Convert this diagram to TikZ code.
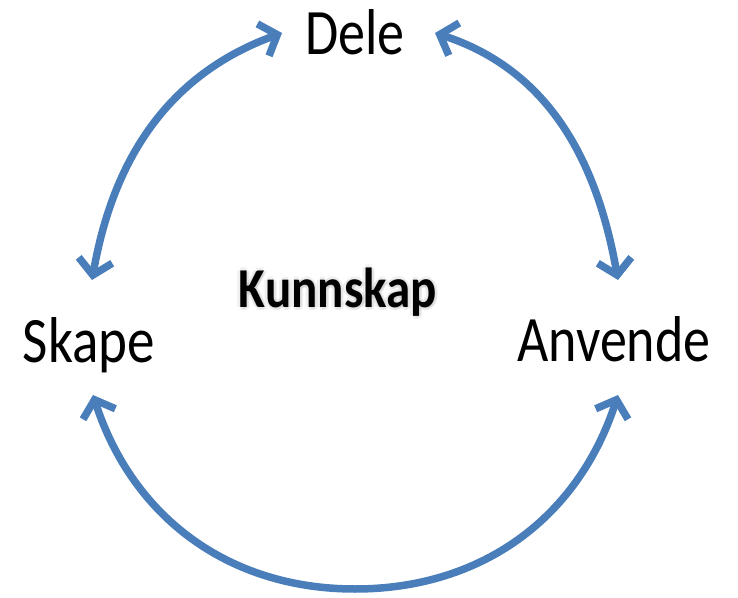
\documentclass[tikz,border=0pt]{standalone}
\usepackage{fontspec}
\setmainfont{Carlito}
\usepackage{tikz}
\usetikzlibrary{arrows.meta}
\definecolor{arrowblue}{RGB}{74,126,187}

\begin{document}
\begin{tikzpicture}[x=1pt,y=1pt,
  cyc/.style={arrowblue, line width=7.5pt,
    {Straight Barb[length=15pt,width=34pt]}-{Straight Barb[length=15pt,width=34pt]}},
  word/.style={anchor=base, inner sep=0pt, font=\fontsize{54}{60}\selectfont},
  bigword/.style={anchor=base, inner sep=0pt, font=\fontsize{49}{54}\selectfont\bfseries}]
\useasboundingbox (0,0) rectangle (738,597);
\node[word] (dele) at (355,542) {\scalebox{1}[1.2]{Dele}};
\node[word] (skape) at (89,234) {\scalebox{1.02}[1.2]{Skape}};
\node[word] (anvende) at (614,235) {\scalebox{1}[1.2]{Anvende}};
% soft shadow round the middle word
{ \foreach \dx/\dy in {-3/0,3/0,0/-3,0/3,2/-2}{\node[bigword, text=gray, opacity=0.12] at (338+\dx,289+\dy) {\scalebox{1}[1.15]{Kunnskap}};} }
\node[bigword] (kunnskap) at (338,289) {\scalebox{1}[1.15]{Kunnskap}};
\coordinate (deleL) at (282,564);
\coordinate (deleR) at (435,564);
\coordinate (skapeT) at (92,317);
\coordinate (skapeB) at (93,202);
\coordinate (anvT) at (618,317);
\coordinate (anvB) at (618,202);
\coordinate (bottom) at (355,8);
{\draw[cyc] (deleL) to[out=200,in=80] (skapeT);}
{\draw[cyc] (deleR) to[out=-18,in=100] (anvT);}
{\draw[cyc] (skapeB) to[out=-72,in=180] (bottom) to[out=0,in=-108] (anvB);}
\end{tikzpicture}
\end{document}
